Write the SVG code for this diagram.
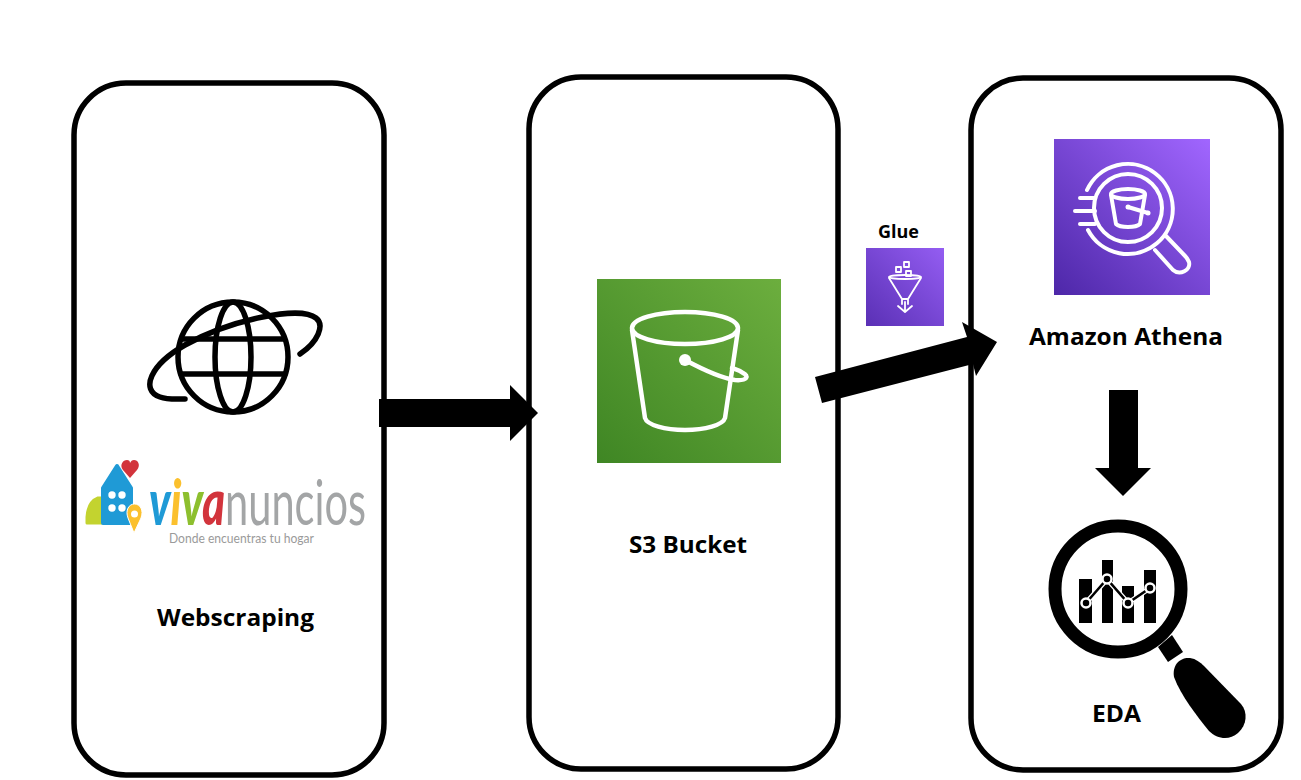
<svg xmlns="http://www.w3.org/2000/svg" width="1301" height="780" viewBox="0 0 1301 780">
<style>
.frame{fill:#fff;stroke:#000;stroke-width:5.5}
.lbl{font-family:"Open Sans","Noto Sans",sans-serif;font-weight:700;fill:#000}
.w{fill:none;stroke:#fff;stroke-linecap:round;stroke-linejoin:round}
.g{fill:none;stroke:#000;stroke-width:5.5;stroke-linecap:round}
.logo{font-family:Lato,"Noto Sans",sans-serif}
</style>
<defs>
<linearGradient id="green" x1="0" y1="1" x2="1" y2="0"><stop offset="0" stop-color="#3F8624"/><stop offset="1" stop-color="#6CAE3E"/></linearGradient>
<linearGradient id="purple" x1="0" y1="1" x2="1" y2="0"><stop offset="0" stop-color="#4D27A8"/><stop offset="1" stop-color="#A166FF"/></linearGradient>
<linearGradient id="purple2" x1="0" y1="1" x2="1" y2="0"><stop offset="0" stop-color="#5A30B5"/><stop offset="1" stop-color="#945DF2"/></linearGradient>
</defs>
<rect width="1301" height="780" fill="#fff"/>
<g id="webscraping">
<rect class="frame" x="74" y="83" width="310" height="692" rx="52"/>
<g id="globe">
<circle class="g" cx="233" cy="357" r="55"/>
<ellipse class="g" cx="233" cy="357" rx="18" ry="55"/>
<path class="g" d="M183 339H283M181 374H285"/>
<path class="g" d="M300 354C318 342 325 325 316 318C300 305 230 320 185 345C150 365 140 390 160 397C168 400 178 399 185 399"/>
</g>
<g id="vivanuncios">
<path d="M87 523V517Q88 502 98 498H102V523Z" fill="#C3D32F" stroke="#C3D32F" stroke-width="3" stroke-linejoin="round"/>
<path d="M103 523V488L117 466L131 488V523Z" fill="#1F9AD6" stroke="#1F9AD6" stroke-width="4" stroke-linejoin="round"/>
<g fill="#fff"><circle cx="112" cy="495" r="3.7"/><circle cx="122" cy="495" r="3.7"/><circle cx="112" cy="508" r="3.7"/><circle cx="122" cy="508" r="3.7"/></g>
<path d="M130 478L123 470C119 465 123 460 127 460C129 460 130 461 130 463C131 461 132 460 134 460C138 460 141 465 137 470Z" fill="#D2343C"/>
<path d="M134 533L128 518C125 510 129 504 134.500 504C140 504 144 510 141 518Z" fill="#FBC02D" stroke="#fff" stroke-width="1"/><circle cx="134.500" cy="514" r="3.500" fill="#fff"/>
<text class="logo" x="149" y="525" font-size="62" font-weight="900" font-style="italic" textLength="76" lengthAdjust="spacingAndGlyphs"><tspan fill="#1F9AD6">v</tspan><tspan fill="#FBC02D">i</tspan><tspan fill="#8DBF2E">v</tspan><tspan fill="#D2343C">a</tspan></text>
<text class="logo" x="225" y="525" font-size="62" fill="#A3A5A6" textLength="141" lengthAdjust="spacingAndGlyphs">nuncios</text>
<text class="logo" x="169" y="543" font-size="13" fill="#9A9A9A" textLength="145" lengthAdjust="spacingAndGlyphs">Donde encuentras tu hogar</text>
</g>
<text class="lbl" x="157" y="626" font-size="24" textLength="157" lengthAdjust="spacingAndGlyphs">Webscraping</text>
</g>
<g id="s3-bucket">
<rect class="frame" x="529" y="77" width="309" height="692" rx="52"/>
<rect x="597" y="279" width="184" height="184" fill="url(#green)"/>
<g class="w" stroke-width="4.500">
<ellipse cx="685" cy="328" rx="53" ry="16"/>
<path d="M632 330L645 418C647 425 665 430 685 430C705 430 723 425 725 418L738 330"/>
<path d="M685 360C700 368 720 378 735 380C748 381 749 376 743 373C739 370 734 369 732 368"/>
</g>
<circle cx="685" cy="360" r="6" fill="#fff"/>
<text class="lbl" x="629" y="553" font-size="24" textLength="118" lengthAdjust="spacingAndGlyphs">S3 Bucket</text>
</g>
<g id="athena">
<rect class="frame" x="971" y="78" width="310" height="692" rx="52"/>
<rect x="1054" y="139" width="156" height="156" fill="url(#purple)"/>
<g class="w" stroke-width="4">
<circle cx="1128" cy="208" r="34"/>
<path d="M1087 190A45 45 0 1 1 1088 230"/>
<path d="M1080 198H1095M1075 211H1095M1080 224H1095"/>
<path d="M1155 250L1173 270C1180 276 1191 270 1189 262C1188 260 1187 258 1186 257L1166 236"/>
<ellipse cx="1128" cy="194" rx="17" ry="5"/>
<path d="M1111 195L1116 224C1120 228 1136 228 1140 224L1145 195"/>
<path d="M1128 207L1148 213"/>
</g>
<circle cx="1128" cy="207" r="2.500" fill="#fff"/><circle cx="1148" cy="213" r="2.500" fill="#fff"/>
<text class="lbl" x="1029" y="345" font-size="24" textLength="194" lengthAdjust="spacingAndGlyphs">Amazon Athena</text>
</g>
<g id="glue">
<rect x="866" y="248" width="78" height="78" fill="url(#purple2)"/>
<g class="w" stroke-width="1.800">
<ellipse cx="905" cy="277" rx="16" ry="2"/>
<path d="M889 278L902 299H908L921 278M902 299V304M908 299V304M905 302V311M898 306L905 312L912 306"/>
<rect x="896" y="267" width="5" height="5"/><rect x="904" y="262" width="5" height="5"/><rect x="906" y="271" width="5" height="5"/>
</g>
<text class="lbl" x="878" y="238" font-size="17" textLength="41" lengthAdjust="spacingAndGlyphs">Glue</text>
</g>
<g id="eda">
<circle cx="1118" cy="589" r="63" fill="#fff" stroke="#000" stroke-width="13"/>
<path d="M1079 579h13v44h-13zM1102 560h11v63h-11zM1122 586h12v37h-12zM1144 570h12v53h-12z"/>
<path d="M1158 647L1172 635L1183 652L1168 662Z"/>
<path d="M1174 677C1172 665 1180 657 1190 658C1196 659 1200 662 1204 666L1241 704C1248 712 1247 725 1238 733C1229 741 1217 739 1209 731C1197 716 1181 696 1174 677Z"/>
<path d="M1086 603L1107 579L1128 603L1150 588" fill="none" stroke="#fff" stroke-width="5"/>
<path d="M1086 603L1107 579L1128 603L1150 588" fill="none" stroke="#000" stroke-width="2.500"/>
<g fill="#000" stroke="#fff" stroke-width="2.500"><circle cx="1086" cy="603" r="4.500"/><circle cx="1107" cy="579" r="4.500"/><circle cx="1128" cy="603" r="4.500"/><circle cx="1150" cy="588" r="4.500"/></g>
<text class="lbl" x="1092" y="722" font-size="24" textLength="49" lengthAdjust="spacingAndGlyphs">EDA</text>
</g>
<g id="connectors" fill="#000">
<path d="M379 399H510V385L538 413L510 441V427H379Z"/>
<path d="M815 377L967 337L962 322L997 342L976 376L973 364L822 403Z"/>
<path d="M1109 390H1138V468H1151L1123 496L1095 468H1109Z"/>
</g>
</svg>
